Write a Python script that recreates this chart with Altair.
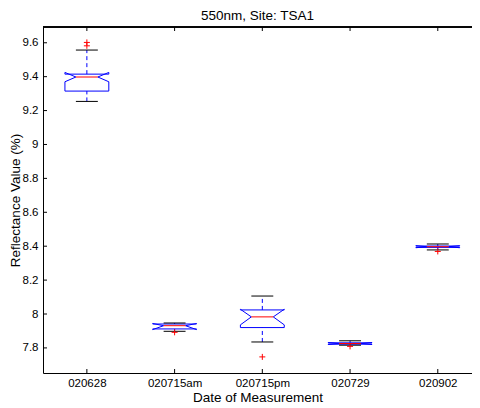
import altair as alt
import pandas as pd

categories = ["020628", "020715am", "020715pm", "020729", "020902"]
lower_whisker = [9.254, 7.898, 7.835, 7.816, 8.378]
q1 = [9.315, 7.912, 7.920, 7.822, 8.393]
notch_lo = [9.370, 7.908, 7.936, 7.820, 8.391]
median = [9.398, 7.931, 7.983, 7.826, 8.397]
notch_hi = [9.425, 7.944, 8.028, 7.832, 8.403]
q3 = [9.415, 7.941, 8.024, 7.830, 8.401]
upper_whisker = [9.557, 7.947, 8.106, 7.842, 8.413]
outliers = [[9.582, 9.602], [7.892], [7.747], [7.809], [8.369]]
y_ticks = [7.8, 8.0, 8.2, 8.4, 8.6, 8.8, 9.0, 9.2, 9.4, 9.6]

W, H = 429, 346
HW, NW, CW = 0.25, 0.125, 0.125
FONT = "Liberation Sans"

# box outlines (notched)
poly = []
for i, c in enumerate(categories):
    p = i + 1
    pts = [(p - HW, q1[i]), (p - HW, notch_lo[i]), (p - NW, median[i]), (p - HW, notch_hi[i]),
           (p - HW, q3[i]), (p + HW, q3[i]), (p + HW, notch_hi[i]), (p + NW, median[i]),
           (p + HW, notch_lo[i]), (p + HW, q1[i]), (p - HW, q1[i])]
    for k, (x, y) in enumerate(pts):
        poly.append({"cat": c, "o": k, "x": x, "y": y})
poly_df = pd.DataFrame(poly)

stats = pd.DataFrame({
    "cat": categories,
    "pos": list(range(1, 6)),
    "lw": lower_whisker, "q1": q1, "med": median, "q3": q3, "uw": upper_whisker,
})
stats["nl"] = stats["pos"] - NW
stats["nr"] = stats["pos"] + NW
stats["cl"] = stats["pos"] - CW
stats["cr"] = stats["pos"] + CW

out_df = pd.DataFrame([{"pos": i + 1, "v": v} for i, vs in enumerate(outliers) for v in vs])
ytick_df = pd.DataFrame({"v": y_ticks})
xtick_df = pd.DataFrame({"pos": list(range(1, 6))})

label_expr = "[" + ",".join("'%s'" % c for c in categories) + "][datum.value - 1]"
xscale = alt.Scale(domain=[0.5, 5.39], nice=False, zero=False)
yscale = alt.Scale(domain=[7.652, 9.693], nice=False, zero=False)
xaxis = alt.Axis(values=[1, 2, 3, 4, 5], labelExpr=label_expr, title="Date of Measurement",
                 tickSize=0, labelPadding=4, grid=False,
                 titleX=W / 2, titleY=28.5, titleBaseline="alphabetic", titleAlign="center")
yaxis = alt.Axis(values=y_ticks, format="~g", title="Reflectance Value (%)",
                 tickSize=0, labelPadding=5, grid=False,
                 titleX=-28, titleY=H / 2, titleAngle=270, titleBaseline="middle",
                 titleAlign="center")

def X(field):
    return alt.X(field, type="quantitative", scale=xscale, axis=xaxis)

def Y(field):
    return alt.Y(field, type="quantitative", scale=yscale, axis=yaxis)

box = alt.Chart(poly_df).mark_line(color="#0000ff", strokeWidth=1, clip=False).encode(
    x=X("x"), y=Y("y"), order="o:Q", detail="cat:N")

wh_up = alt.Chart(stats).mark_rule(color="#0000ff", strokeDash=[4, 3], strokeWidth=1).encode(
    x=X("pos"), y=Y("q3"), y2="uw")
wh_lo = alt.Chart(stats).mark_rule(color="#0000ff", strokeDash=[4, 3], strokeWidth=1).encode(
    x=X("pos"), y=Y("lw"), y2="q1")
cap_up = alt.Chart(stats).mark_rule(color="black", strokeWidth=1).encode(
    x=X("cl"), x2="cr", y=Y("uw"))
cap_lo = alt.Chart(stats).mark_rule(color="black", strokeWidth=1).encode(
    x=X("cl"), x2="cr", y=Y("lw"))
med = alt.Chart(stats).mark_rule(color="#ff0000", strokeWidth=1).encode(
    x=X("nl"), x2="nr", y=Y("med"))
outl = alt.Chart(out_df).mark_point(shape="M-1,0L1,0M0,-1L0,1", filled=False, color="#ff0000",
                                    strokeWidth=1, size=36, opacity=1).encode(
    x=X("pos"), y=Y("v"))

ltick = alt.Chart(ytick_df).mark_rule(color="black").encode(
    y=Y("v"), x=alt.value(0), x2=alt.value(4))
btick = alt.Chart(xtick_df).mark_rule(color="black").encode(
    x=X("pos"), y=alt.value(H), y2=alt.value(H - 4))
ttick = alt.Chart(xtick_df).mark_rule(color="black").encode(
    x=X("pos"), y=alt.value(0), y2=alt.value(4))
topline = alt.Chart(xtick_df).mark_rule(color="black").encode(
    x=alt.value(0), x2=alt.value(W), y=alt.value(0))

chart = alt.layer(box, wh_up, wh_lo, cap_up, cap_lo, med, outl, ltick, btick, ttick, topline).properties(
    width=W, height=H,
    title=alt.Title("550nm, Site: TSA1", fontSize=13.5, fontWeight="normal", font=FONT,
                    color="black", offset=4),
    autosize=alt.AutoSizeParams(type="none"),
    padding={"left": 35, "top": 19, "right": 0, "bottom": 34},
).configure_view(stroke=None).configure_axis(
    domainColor="black", domainWidth=1, labelFont=FONT, titleFont=FONT,
    labelFontSize=11.5, titleFontSize=13.5, labelColor="black", titleColor="black",
    titleFontWeight="normal",
)

chart.save("out.html", embed_options={"renderer": "svg", "actions": False})
